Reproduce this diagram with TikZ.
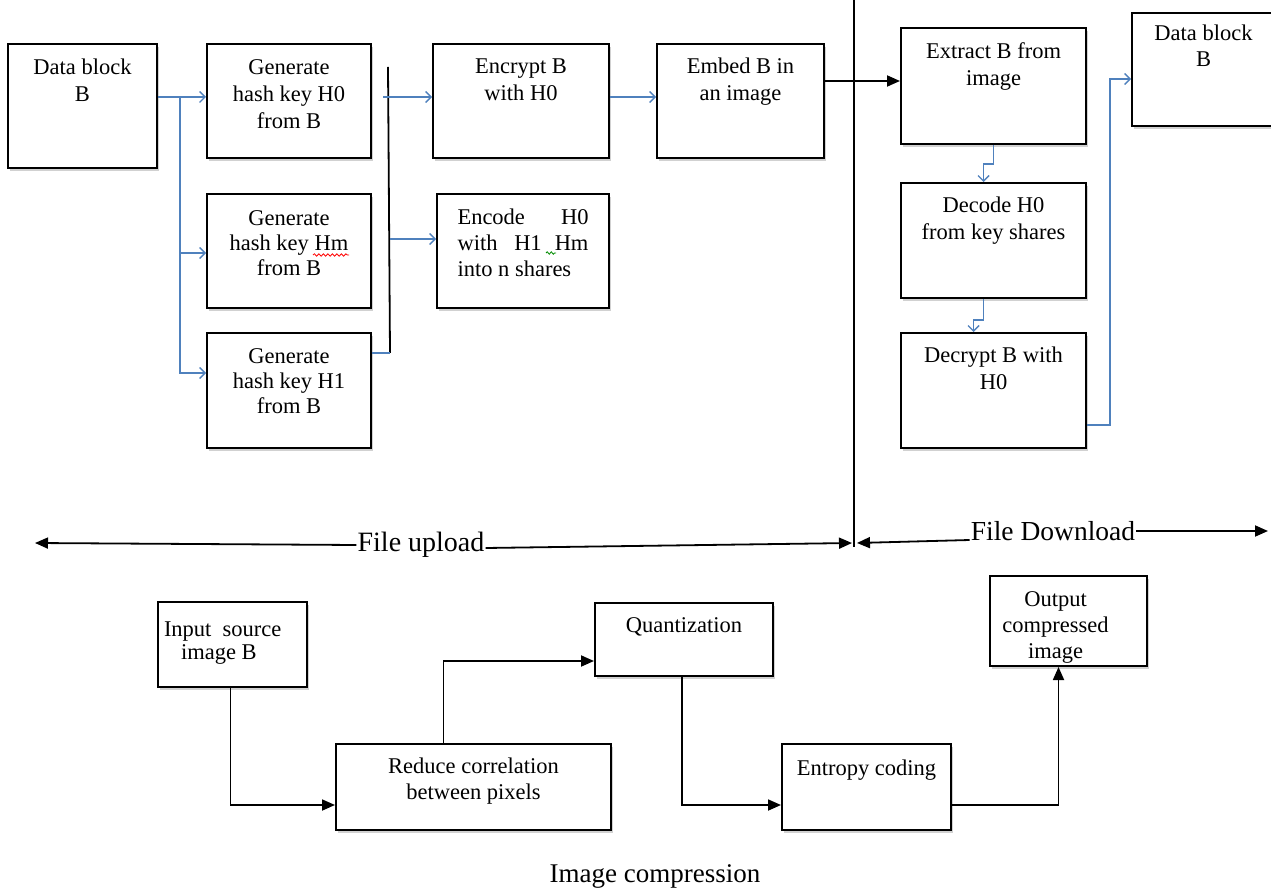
\documentclass[tikz,border=0pt]{standalone}
\usepackage{fontspec}
\setmainfont{Liberation Serif}
\usetikzlibrary{arrows.meta,shadows,decorations.pathmorphing}
\definecolor{arrblue}{RGB}{79,129,189}
\tikzset{
  box/.style={draw, line width=2pt, inner sep=0pt, anchor=north west, fill=white,
    font=\fontsize{22.5}{27}\selectfont,
    drop shadow={shadow xshift=2pt, shadow yshift=-3pt, fill=black!40, opacity=.45}},
  blu/.style={draw=arrblue, line width=1.7pt},
  blarr/.style={blu, -{Straight Barb[length=5.5pt,width=11pt,line width=1.4pt]}},
  kline/.style={line width=1.8pt},
  karr/.style={kline, -{Triangle[length=13pt,width=11pt]}},
  lbl/.style={inner sep=1pt}
}
\newcommand\BX[8][]{\node[box] (#2) at (#3,#4) {\parbox[t][\dimexpr#6pt-#4pt\relax][t]{\dimexpr#5pt-#3pt\relax}{#1\vspace*{#7pt}\centering\strut#8\par}};}
\begin{document}
\begin{tikzpicture}[x=1pt,y=-1pt]
\useasboundingbox (0,0) rectangle (1271,890);
\fill[white] (0,0) rectangle (1271,890);

% ---------- upload side ----------
\BX{db1}{7}{43}{156}{167}{12}{Data block\\B}
\BX{gh0}{206}{43}{370}{157}{12}{Generate\\hash key H0\\from B}
\BX[\fontsize{22.5}{25}\selectfont]{ghm}{206}{193}{370}{307}{14.5}{Generate\\hash key Hm\\from B}
\BX[\fontsize{22.5}{25}\selectfont]{gh1}{206}{332}{370}{447}{13.5}{Generate\\hash key H1\\from B}
\BX{encr}{432}{43}{608}{157}{11}{Encrypt B\\with H0}
\BX{embd}{656}{43}{823}{157}{11}{Embed B in\\an image}
\BX[\fontsize{22.5}{26}\selectfont]{encd}{436}{193}{608}{307}{12}{\makebox[131pt][s]{Encode\hfill H0}\\\makebox[131pt][s]{with\hfill H1\hspace{13pt}Hm}\\\makebox[131pt][l]{into n shares}}

% ---------- download side ----------
\BX{extr}{900}{27}{1085}{143}{12}{Extract B from\\image}
\BX{deco}{900}{182}{1085}{297}{11}{Decode H0\\from key shares}
\BX{decr}{900}{332}{1085}{447}{11}{Decrypt B with\\H0}
\BX[\fontsize{22.5}{26}\selectfont]{db2}{1131}{12}{1274}{125}{9}{Data block\\B}

% ---------- image compression ----------
\BX[\fontsize{22.5}{23}\selectfont]{inp}{157}{601}{306}{686}{18}{\raggedright\hspace*{6pt}Input\ \ source\\\hspace*{23pt}image B}
\BX[\fontsize{22.5}{26}\selectfont]{red}{335}{743}{610}{829}{11}{Reduce correlation\\between pixels}
\BX{qua}{594}{602}{772}{675}{11}{Quantization}
\BX{ent}{781}{743}{950}{829}{13}{Entropy coding}
\BX[\fontsize{22.5}{26}\selectfont]{out}{989}{575}{1146}{665}{12}{Output\makebox[26pt]{}\\compressed\makebox[26pt]{}\\image\makebox[26pt]{}}

% spell-check marks
\draw[red, line width=0.8pt, decorate, decoration={snake, amplitude=1.2pt, segment length=4.5pt}] (313,255) -- (349,255);
\draw[green!55!black, line width=0.8pt, decorate, decoration={snake, amplitude=1.2pt, segment length=4pt}] (546,253) -- (556,253);

% ---------- upload connectors ----------
\coordinate (j1) at ([xshift=22pt,yshift=-54pt]db1.north east);
\draw[blarr] ([yshift=-54pt]db1.north east) -- ([yshift=-54pt]gh0.north west);
\draw[blarr] (j1) |- ([yshift=-60pt]ghm.north west);
\draw[blarr] (j1) |- ([yshift=-41pt]gh1.north west);

\coordinate (bt) at (388,67);
\coordinate (bb) at ([xshift=18pt,yshift=-21pt]gh1.north east);
\coordinate (b1) at (383,97);
\draw[kline] (bt) -- (bb);
\draw[blu] ([yshift=-21pt]gh1.north east) -- (bb);
\draw[blarr] (b1) -- ([yshift=-54pt]encr.north west);
\draw[blarr] (bb |- 0,239) -- ([yshift=-46pt]encd.north west);
\draw[blarr] ([yshift=-54pt]encr.north east) -- ([yshift=-54pt]embd.north west);
\draw[karr] ([yshift=-38pt]embd.north east) -- ([yshift=-54pt]extr.north west);

% ---------- download connectors ----------
\draw[blarr] (extr.south) -- ++(0,19) -| ([xshift=-10pt]deco.north);
\draw[blarr] ([xshift=-10pt]deco.south) -- ++(0,21) -| ([xshift=-20pt]decr.north);
\draw[blarr] ([yshift=24pt]decr.south east) -- ++(23,0) |- ([yshift=-67pt]db2.north west);

% ---------- divider and labels ----------
\coordinate (vt) at (854,0);
\coordinate (vb) at (854,547);
\draw[line width=1.6pt] (vt) -- (vb);

\node[lbl, font=\fontsize{28}{30}\selectfont] (fu) at (421,545) {File upload};
\node[lbl, font=\fontsize{27.5}{30}\selectfont] (fd) at (1053,531) {File Download};
\coordinate (la) at (35,543);
\coordinate (ua) at (852,543);
\coordinate (da) at (857,543);
\coordinate (ra) at (1268,531);
\draw[karr] (fu.west) -- (la);
\draw[karr] ([yshift=-3pt]fu.east) -- (ua);
\draw[karr] ([yshift=-9pt]fd.west) -- (da);
\draw[karr] (fd.east) -- (ra);

% ---------- compression connectors ----------
\draw[karr] ([xshift=-2pt]inp.south) |- ([yshift=-62pt]red.north west);
\draw[karr] ([xshift=-30pt]red.north) |- ([yshift=-59pt]qua.north west);
\draw[karr] ([xshift=-2pt]qua.south) |- ([yshift=-62pt]ent.north west);
\draw[karr] ([yshift=-62pt]ent.north east) -| ([xshift=-10pt]out.south);

\node[lbl, font=\fontsize{27}{30}\selectfont] (ic) at (655,876) {Image compression};
\end{tikzpicture}
\end{document}
